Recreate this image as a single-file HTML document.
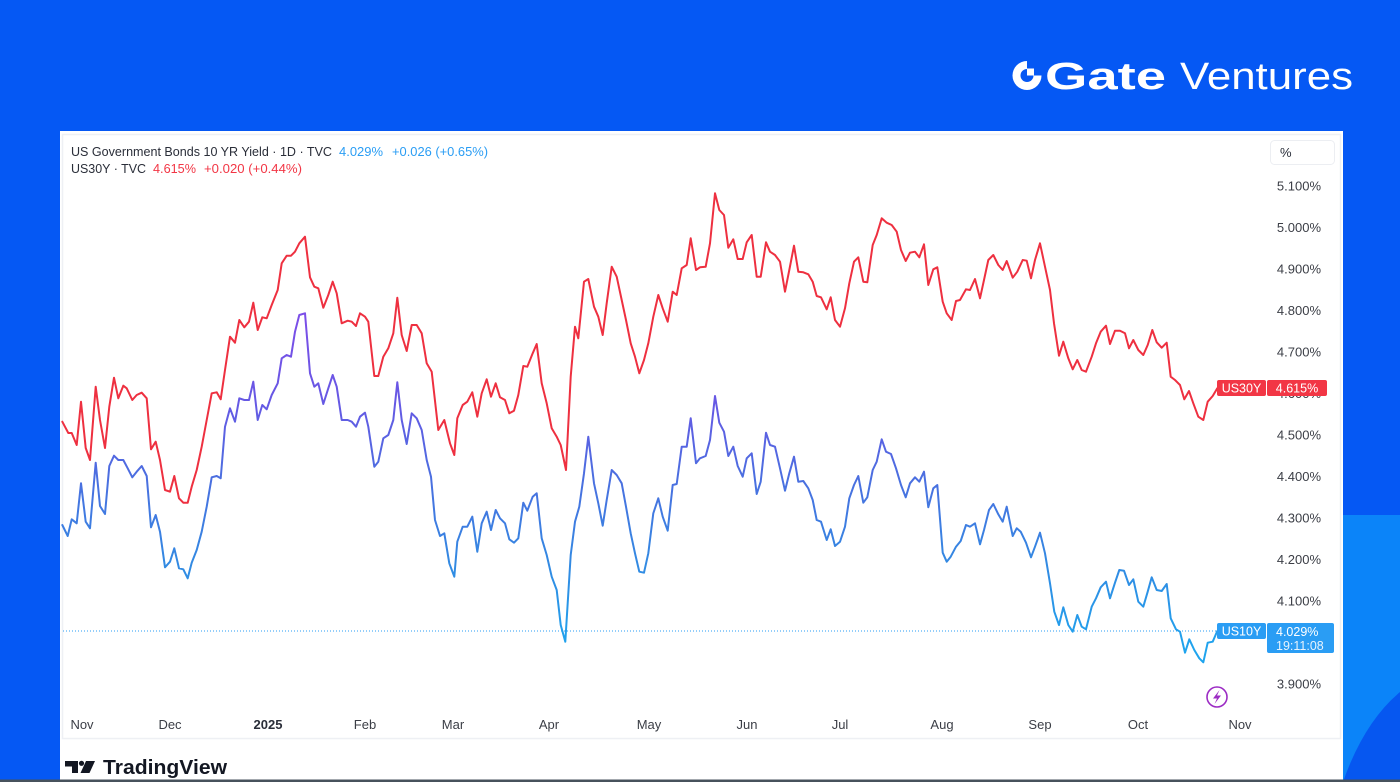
<!DOCTYPE html>
<html>
<head>
<meta charset="utf-8">
<style>
  html, body { margin:0; padding:0; background:#0558f4; }
  body { width:1400px; height:782px; overflow:hidden; }
  svg { display:block; }
  text { font-family: "Liberation Sans", "DejaVu Sans", sans-serif; }
</style>
</head>
<body>
<svg width="1400" height="782" viewBox="0 0 1400 782" xmlns="http://www.w3.org/2000/svg">
  <defs>
    <linearGradient id="blueGrad" gradientUnits="userSpaceOnUse" x1="0" y1="310" x2="0" y2="650">
      <stop offset="0" stop-color="#7d4de8"/>
      <stop offset="0.27" stop-color="#6658e4"/>
      <stop offset="0.5" stop-color="#4a6fe0"/>
      <stop offset="0.74" stop-color="#3389e2"/>
      <stop offset="1" stop-color="#1fa4ee"/>
    </linearGradient>
  </defs>

  <!-- background -->
  <rect x="0" y="0" width="1400" height="782" fill="#0558f4"/>
  <rect x="1343" y="515" width="57" height="267" fill="#0b84f9"/>
  <path d="M1343,782 Q1364,722 1400,692 L1400,782 Z" fill="#0657f0"/>

  <!-- Gate Ventures logo -->
  <path d="M1041.5,75.5 A14.5,14.5 0 1 1 1027,61 L1027,69 A6.5,6.5 0 1 0 1033.5,75.5 Z" fill="#ffffff"/>
  <rect x="1027" y="68.5" width="7" height="7" fill="#ffffff"/>
  <text x="1045" y="89" font-size="38" font-weight="bold" fill="#ffffff" textLength="121" lengthAdjust="spacingAndGlyphs">Gate</text>
  <text x="1180" y="89" font-size="38" fill="#ffffff" textLength="173" lengthAdjust="spacingAndGlyphs">Ventures</text>

  <!-- white panel -->
  <rect x="60" y="131" width="1283" height="651" fill="#ffffff"/>
  <!-- chart widget border -->
  <rect x="62.5" y="134.5" width="1278" height="604" fill="none" stroke="#eef0f4" stroke-width="1.5"/>

  <!-- legend -->
  <text x="71" y="156" font-size="12.5" fill="#2a2e39" textLength="261" lengthAdjust="spacingAndGlyphs">US Government Bonds 10 YR Yield · 1D · TVC</text>
  <text x="339" y="156" font-size="12.5" fill="#2a9df4" textLength="44" lengthAdjust="spacingAndGlyphs">4.029%</text>
  <text x="392" y="156" font-size="12.5" fill="#2a9df4" textLength="96" lengthAdjust="spacingAndGlyphs">+0.026 (+0.65%)</text>
  <text x="71" y="173" font-size="12.5" fill="#2a2e39" textLength="75" lengthAdjust="spacingAndGlyphs">US30Y · TVC</text>
  <text x="153" y="173" font-size="12.5" fill="#f23645" textLength="43" lengthAdjust="spacingAndGlyphs">4.615%</text>
  <text x="204" y="173" font-size="12.5" fill="#f23645" textLength="98" lengthAdjust="spacingAndGlyphs">+0.020 (+0.44%)</text>

  <!-- % button -->
  <rect x="1270.5" y="140.5" width="64" height="24" rx="4" fill="#ffffff" stroke="#eceef2"/>
  <text x="1280" y="157" font-size="13" fill="#2a2e39">%</text>

  <!-- y axis ticks -->
  <g font-size="13" fill="#3b3e46" text-anchor="end">
    <text x="1321" y="190.5">5.100%</text>
    <text x="1321" y="232">5.000%</text>
    <text x="1321" y="273.5">4.900%</text>
    <text x="1321" y="315">4.800%</text>
    <text x="1321" y="356.5">4.700%</text>
    <text x="1321" y="398">4.600%</text>
    <text x="1321" y="439.5">4.500%</text>
    <text x="1321" y="481">4.400%</text>
    <text x="1321" y="522.5">4.300%</text>
    <text x="1321" y="564">4.200%</text>
    <text x="1321" y="605.5">4.100%</text>
    <text x="1321" y="647">4.000%</text>
    <text x="1321" y="688.5">3.900%</text>
  </g>

  <!-- x axis labels -->
  <g font-size="13" fill="#3b3e46" text-anchor="middle">
    <text x="82" y="729">Nov</text>
    <text x="170" y="729">Dec</text>
    <text x="268" y="729" font-weight="bold" fill="#2a2e39">2025</text>
    <text x="365" y="729">Feb</text>
    <text x="453" y="729">Mar</text>
    <text x="549" y="729">Apr</text>
    <text x="649" y="729">May</text>
    <text x="747" y="729">Jun</text>
    <text x="840" y="729">Jul</text>
    <text x="942" y="729">Aug</text>
    <text x="1040" y="729">Sep</text>
    <text x="1138" y="729">Oct</text>
    <text x="1240" y="729">Nov</text>
  </g>

  <!-- dotted last-price line (10Y) -->
  <line x1="63" y1="631" x2="1217" y2="631" stroke="#2a9df4" stroke-width="1" stroke-dasharray="1,2"/>

  <!-- US30Y red line -->
  <polyline fill="none" stroke="#ee3040" stroke-width="2" stroke-linejoin="round" stroke-linecap="round" points="62.3,421.7 68.3,433 71.7,433 76.7,445 81,401.7 85.7,448 90,460 95.7,386.7 100,420 105,448 109.3,406.7 114,377.7 118.3,398.3 123.3,385.7 126.7,388.3 132.3,400 136.7,395 141.7,392.7 146.7,398.3 151,449.3 155.7,441.7 160,460 165,490 170,491.7 174.3,476 179,498.3 183.3,502.7 187.7,502.7 191.7,486.7 196.7,470 201.7,446.7 206.7,420 211.7,393.3 216.7,392.3 220.7,399.3 225,370 230,336.7 235,342.7 239.3,320 244.3,327.3 249,321.7 253.3,302.7 257.7,330 262.3,317.3 266.7,318.3 271.7,305 277.7,290 281.7,263.3 286.7,255.7 291,255.7 295,251.7 299.3,243.3 305,236.7 310,277.3 314.3,286.7 318.3,288.3 323.3,307.7 328.3,295 332.7,281.7 336.7,293.3 341.7,323.3 347.7,320.7 351.7,321.7 356,326 360,313.3 365,316.7 368.3,321.7 374.3,376 378.3,376 383.3,356.7 388.3,348.3 393.3,333.3 397.3,297.7 401.7,335 406.7,351 411.7,325 416.7,325 421.7,333.3 426.7,363.3 431.7,371.7 438.3,430 444.3,420 450,443.3 454.3,455 457.3,418.3 462.7,405 467.3,401.7 472.3,392.3 477.3,416.7 481.7,393.3 486.7,379.3 491,396.7 495.7,383.3 500,397.3 505,400 509.3,413.3 514,410.7 518.3,395 523.3,366 527.3,366.7 532.7,353.3 536.7,344 541.7,383.3 546.7,403.3 551.7,428.3 556.7,436.7 560.7,445 566,470 570.7,376.7 575,326.7 578.3,338.3 584,281.7 588.3,279 594,306.7 598.3,316.7 602.7,335 606.7,303.3 611.7,266.7 616.7,276.7 621.7,300 626,320 630.7,343.3 635,356.7 639.3,373.3 644,360 648.3,343.3 653.3,316.7 658.3,295 662.7,308.3 667.7,321.7 672.7,291.7 676.7,295 681.7,268.3 686.7,265 690.7,238.3 696,270 700,267.3 705.7,266.7 710,243.3 715,193.3 719.3,210 724,215 728.3,247.7 733.3,239.3 737.7,259 742.7,259 746.7,242.3 751.7,235 756.7,276.7 760.7,276.7 766,242.3 770,251.7 775,255 780,261.7 785,291.7 789.3,270 794,245.7 798.3,271.7 803.3,272.3 808.3,274.3 812.7,281.7 816.7,296 821,297.3 826.7,309.3 830.7,297.3 835,320 840,326.7 845,308.3 849.3,283.3 854,261.7 858.3,257.3 863.3,281.7 867.3,282.3 872.7,245 876.7,235 881.7,218.3 886.7,222.7 891.7,225 896.7,231.7 901,250 905.7,261 910,252.7 915,251.7 919.3,257.3 924,244.3 928.3,285 933.3,269.3 937.3,267.3 942.7,301.7 946.7,313.3 951.7,320 956,301 960,300 966,289.3 970,290 975,279 980,298.3 984,280 988.3,260 993.3,255 998.3,265 1002.7,270 1006.7,261 1012.7,277.7 1017.3,271.7 1022.7,260 1026.7,260.7 1031,278.3 1035,260 1040,243.3 1045,266.7 1050,290 1054,323.3 1059,355.7 1063.3,341.7 1068.3,358.3 1072.7,369.3 1077.3,360 1081.7,370 1086,371.7 1091.7,356.7 1096,343.3 1100.7,331.7 1106,325.7 1110,344 1115,330.7 1120,330.7 1125,333.3 1129,348.3 1133.3,340 1138.3,350 1143.3,355 1147.7,345 1152.3,330 1156.7,342.3 1161.7,347.7 1166.7,342.7 1170.7,376.7 1175,380 1180,385 1184.3,399.3 1189,391 1193.3,403.3 1198.3,416.7 1203.3,420 1207.7,401.7 1212.7,396 1217.3,388.3"/>

  <!-- US10Y gradient line -->
  <polyline fill="none" stroke="url(#blueGrad)" stroke-width="2" stroke-linejoin="round" stroke-linecap="round" points="62.3,525 67.7,536 71.7,519.3 76.7,523.3 81,483.3 85.7,521.7 90,528.3 95.7,462.7 100,506 105,514 109.3,466 114,455.7 118.3,460 123.3,460 127.7,468.3 132.3,477.3 136.7,471.7 141.7,466 146.7,476 151,527.3 155.7,515 160,531.7 165,567.3 170,561.7 174.3,548.3 179,568.3 183.3,569.3 187.7,578.3 191.7,562.7 196.7,550 201.7,531.7 206.7,506.7 211.7,477.3 216.7,476 220.7,478.3 225,426.7 230,408.3 235,421.7 239.3,398.3 244.3,400 249,400 253.3,381.7 257.7,420 262.3,405 266.7,409.3 271.7,395 277.7,383.3 281.7,358.3 286.7,355 291,356.7 295,331.7 299.3,315 305,313.3 310,373.3 314.3,386.7 318.3,383.3 323.3,404 328.3,388.3 332.7,375 336.7,386.7 341.7,420 347.7,420 351.7,421.7 356,426.7 360,416.7 365,412.7 368.3,426.7 374.3,466.7 378.3,461.7 383.3,438.3 388.3,435 393.3,420 397.3,382.3 401.7,420 406.7,444 411.7,413.3 416.7,418.3 421.7,430 426.7,460 431,476.7 435,520 440,536 444.3,533.3 449.3,563.3 454.3,576.7 457.3,541.7 462.7,526.7 467.3,526.7 472.3,516.7 477.3,551.7 481.7,523.3 486.7,511.7 491,530 495.7,510 500,518.3 505,523.3 509.3,539.3 514,542.7 518.3,538.3 523.3,502.7 527.3,510.7 532.7,496.7 536.7,493.3 541.7,538.3 546.7,555 551.7,576.7 556.7,590 560.7,625 565.3,641.7 570.7,555 575,521.7 579.3,506.7 584,473.3 588.3,436.7 594,483.3 598.3,503.3 602.7,525.7 606.7,500 611.7,470 616.7,475 621.7,483.3 626,506.7 630.7,533.3 635,553.3 639.3,571.7 644,572.7 648.3,553.3 653.3,513.3 658.3,498.3 662.7,516.7 667.7,530.7 672.7,485 676.7,484 681.7,446.7 686.7,446.7 690.7,418.3 696,463.3 700,458.3 705.7,456 710,440 715,396 719.3,422.7 724,431.7 728.3,456 733.3,446.7 737.7,466 742.7,476.7 746.7,458.3 751.7,453.3 756.7,494 760.7,481.7 766,432.7 770,445 775,446.7 780,468.3 785,490.7 789.3,473.3 794,456.7 798.3,481.7 803.3,481 808.3,488.3 812.7,500 816.7,520 821,521.7 826.7,540 830.7,529.3 835,546 840,541.7 845,526.7 849.3,498.3 854,485 858.3,476 863.3,502.7 867.3,497.3 872.7,470 876.7,461.7 881.7,439.3 886,451.7 891,454 896,468.3 901,485 905.7,497.3 910,483.3 915,477.3 919.3,481.7 924,471.7 928.3,507.3 933.3,488.3 937.3,485 942.7,552.7 946.7,561.7 950.7,556.7 956,546.7 960.7,541 966,525 970,526.7 975,523.3 980,544.3 984,530 989,510 993.3,504 998.3,514.3 1002.7,521.7 1006.7,506.7 1012.7,536 1016.7,528.3 1020.7,531.7 1026,542.7 1031,557.3 1035,546.7 1040,532.7 1045,553.3 1050,583.3 1054.3,611.7 1059,625 1063.3,607.3 1068.3,625 1072.7,631.7 1077.3,615 1081.7,626.7 1086,629.3 1091.7,606.7 1096,598.3 1100.7,587.3 1106,581.7 1110,598.3 1115,582.7 1119.3,570 1124,570.7 1129,585 1133.3,579.3 1138.3,601.7 1143.3,606.7 1147.7,591.7 1151.7,577.3 1156.7,590 1161.7,591 1166.7,584 1170.7,618.3 1176,629.3 1180,631.7 1185,652.7 1189.3,639.3 1194.3,650 1199.3,658.3 1203.3,662.3 1207.7,642.7 1212.7,641.7 1217.3,631"/>

  <!-- US30Y labels -->
  <rect x="1217" y="380" width="49" height="16" rx="2" fill="#f23645"/>
  <text x="1241.5" y="392.5" font-size="12.5" fill="#ffffff" text-anchor="middle">US30Y</text>
  <rect x="1267" y="380" width="60" height="16" rx="2" fill="#f23645"/>
  <text x="1297" y="392.5" font-size="12.5" fill="#ffffff" text-anchor="middle">4.615%</text>

  <!-- US10Y labels -->
  <rect x="1217" y="623" width="49" height="16" rx="2" fill="#2a9df4"/>
  <text x="1241.5" y="635.5" font-size="12.5" fill="#ffffff" text-anchor="middle">US10Y</text>
  <rect x="1267" y="623" width="67" height="30" rx="2" fill="#2a9df4"/>
  <text x="1276" y="636" font-size="12.5" fill="#ffffff">4.029%</text>
  <text x="1276" y="650" font-size="12.5" fill="#e6f3fd">19:11:08</text>

  <!-- lightning icon -->
  <circle cx="1217" cy="697" r="10" fill="#ffffff" stroke="#9c2cc4" stroke-width="1.6"/>
  <path d="M1219.5,690 L1213,698.5 H1217 L1214.5,704 L1221,695.5 H1217 Z" fill="#9c2cc4"/>

  <!-- TradingView logo -->
  <path d="M65,761 H78 V773 H72 V766.5 H65 Z" fill="#131722"/>
  <circle cx="81.5" cy="763.3" r="2.6" fill="#131722"/>
  <path d="M86,761 H95 L89.5,773 H80.5 Z" fill="#131722"/>
  <text x="103" y="774" font-size="20.5" font-weight="bold" fill="#131722" textLength="124" lengthAdjust="spacingAndGlyphs">TradingView</text>

  <!-- bottom edge line -->
  <rect x="0" y="779.5" width="1400" height="2.5" fill="#47525c"/>
</svg>
</body>
</html>
